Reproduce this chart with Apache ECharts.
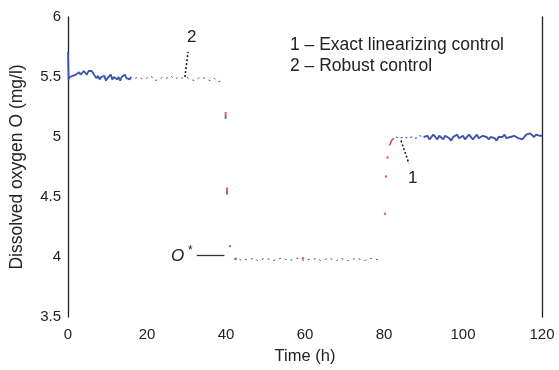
<!DOCTYPE html>
<html><head><meta charset="utf-8">
<script src="https://cdn.jsdelivr.net/npm/echarts@6/dist/echarts.min.js"></script>
<style>html,body{margin:0;padding:0;background:#fff}#c{width:559px;height:370px}</style>
</head><body><div id="c"></div>
<script>
// ---- data ----
const xTicks = [0, 20, 40, 60, 80, 100, 120];
const yTicks = [3.5, 4, 4.5, 5, 5.5, 6];
// robust control, solid part 0-16 h
const tA = [0,0.15,0.4,0.8,1.2,1.6,2,2.4,2.8,3.2,3.6,4,4.4,4.8,5.2,5.6,6,6.4,6.8,7.2,7.6,8,8.4,8.8,9.2,9.6,10,10.4,10.8,11.2,11.6,12,12.4,12.8,13.2,13.6,14,14.4,14.8,15.2,15.6,16];
const vA = [5.71,5.48,5.50,5.49,5.51,5.50,5.52,5.51,5.54,5.52,5.53,5.55,5.54,5.52,5.55,5.56,5.55,5.53,5.52,5.49,5.51,5.48,5.50,5.49,5.51,5.47,5.49,5.50,5.52,5.48,5.50,5.51,5.48,5.50,5.47,5.50,5.49,5.52,5.49,5.50,5.48,5.50];
// sparse part 17-39 h
const tB = [17,18,19,20,21,22,23,24,25,26,27,28,29,30,31,32,33,34,35,36,37,38,39];
const vB = [5.49,5.50,5.48,5.49,5.51,5.47,5.48,5.50,5.49,5.51,5.48,5.50,5.49,5.50,5.48,5.47,5.49,5.50,5.48,5.47,5.49,5.46,5.47];
// transition at 40 h
const tT1 = [39.9, 40.25];
const vT1 = [5.18, 4.55];
const tT1b = [41];
const vT1b = [4.09];
// sparse low part 42-79 h
const tC = [42,43,44,45,46,47,48,49,50,51,52,53,54,55,56,57,58,59,60,61,62,63,64,65,66,67,68,69,70,71,72,73,74,75,76,77,78,79];
const vC = [3.98,3.99,3.97,3.98,3.98,3.99,3.97,3.98,3.99,3.98,3.97,3.98,3.99,3.98,3.97,3.98,3.99,3.98,3.97,3.98,3.98,3.99,3.97,3.98,3.99,3.98,3.97,3.99,3.98,3.97,3.98,3.99,3.98,3.97,3.98,3.99,3.98,3.98];
// transition at 80 h (exact linearizing control visible)
const tT2 = [80.25, 80.5, 80.9];
const vT2 = [4.36, 4.67, 4.83];
const tT2s = [81.4, 81.9, 82.5];
const vT2s = [4.93, 4.97, 4.99];
// sparse part 83-90 h
const tD = [83,84,85,86,87,88,89,90];
const vD = [5.00,4.99,5.00,4.99,5.00,4.99,5.01,5.00];
// solid part 90-120 h
const tE = [90,90.5,91,91.5,92,92.5,93,93.5,94,94.5,95,95.5,96,96.5,97,97.5,98,98.5,99,99.5,
            100,100.5,101,101.5,102,102.5,103,103.5,104,104.5,105,105.5,106,106.5,107,107.5,108,108.5,109,109.5,
            110,110.5,111,111.5,112,112.5,113,113.5,114,114.5,115,115.5,116,116.5,117,117.5,118,118.5,119,119.5,120];
const vE = [5.00,4.99,5.01,4.98,4.99,5.02,5.00,4.98,5.01,5.00,
            4.98,5.01,5.02,4.99,4.97,5.00,5.01,5.02,4.99,5.00,
            5.01,4.98,4.99,5.02,5.01,4.98,5.00,5.02,4.99,4.98,
            5.01,5.02,5.00,4.98,5.00,5.01,4.99,4.97,5.00,5.01,
            5.00,5.02,4.99,4.98,5.00,4.99,5.01,5.02,4.99,5.00,
            4.98,5.00,5.02,5.01,5.03,5.02,5.00,5.02,5.03,5.01,5.01];
// red dots of curve 1 visible in flat parts
const tR = [42.5, 59.5];
const vR = [3.985, 3.99];
// annotations (data coordinates)
const lead2 = [[29.6, 5.50], [30.4, 5.71]];
const lead1 = [[84.3, 4.97], [86.3, 4.78]];
const oStarLine = [[32.6, 4.013], [39.6, 4.013]];
const legendLines = ['1 \u2013 Exact linearizing control', '2 \u2013 Robust control'];

const zip = (t, v) => t.map((x, i) => [x, v[i]]);
const BLUE = '#3a53ae';
const RED = '#e8343c';
const F = 'Liberation Sans, Arial, sans-serif';

const chart = echarts.init(document.getElementById('c'));
const rb = {type:'linear',x:0,y:0,x2:0,y2:1,colorStops:[{offset:0,color:RED},{offset:0.45,color:RED},{offset:0.45,color:BLUE},{offset:1,color:BLUE}]};

chart.setOption({
  animation: false,
  grid: {left: 68, right: 17, top: 17, bottom: 50},
  xAxis: {
    type: 'value', min: 0, max: 120, interval: 20,
    axisLine: {show: false}, axisTick: {show: false}, splitLine: {show: false},
    axisLabel: {color: '#222', fontFamily: F, fontSize: 15, margin: 10,
      formatter: v => xTicks.includes(v) ? String(v) : ''},
    name: 'Time (h)', nameLocation: 'middle', nameGap: 31,
    nameTextStyle: {color: '#222', fontFamily: F, fontSize: 16.5}
  },
  yAxis: [{
    type: 'value', min: 3.5, max: 6, interval: 0.5,
    axisLine: {show: true, onZero: false, lineStyle: {color: '#222', width: 1.3}},
    axisTick: {show: false}, splitLine: {show: false},
    axisLabel: {color: '#222', fontFamily: F, fontSize: 15, margin: 7,
      formatter: v => yTicks.includes(v) ? String(v) : ''},
    name: 'Dissolved oxygen O (mg/l)', nameLocation: 'middle', nameGap: 42, nameRotate: 90,
    nameTextStyle: {color: '#222', fontFamily: F, fontSize: 17.5}
  }, {
    type: 'value', min: 3.5, max: 6, interval: 0.5, position: 'right',
    axisLine: {show: true, onZero: false, lineStyle: {color: '#222', width: 1.3}},
    axisTick: {show: false}, axisLabel: {show: false}, splitLine: {show: false}
  }],
  series: [
    {type: 'line', data: zip(tA, vA), symbol: 'none', lineStyle: {color: BLUE, width: 1.8}},
    {type: 'line', data: zip(tB, vB), symbol: 'none', lineStyle: {color: BLUE, width: 1, type: [2, 4]}},
    {type: 'line', data: zip(tC, vC), symbol: 'none', lineStyle: {color: BLUE, width: 1, type: [2, 4]}},
    {type: 'line', data: zip(tD, vD), symbol: 'none', lineStyle: {color: BLUE, width: 1.1, type: [2, 3]}},
    {type: 'line', data: zip(tE, vE), symbol: 'none', lineStyle: {color: BLUE, width: 1.9}},
    {type: 'line', data: zip(tT2s, vT2s), symbol: 'none', lineStyle: {color: RED, width: 1.4}},
    {type: 'scatter', data: zip(tT1, vT1), symbol: 'rect', symbolSize: [2, 7], itemStyle: {color: rb}},
    {type: 'scatter', data: zip(tT1b, vT1b), symbol: 'rect', symbolSize: [2, 2], itemStyle: {color: BLUE}},
    {type: 'scatter', data: zip(tT2, vT2), symbol: 'circle', symbolSize: 2.5, itemStyle: {color: RED}},
    {type: 'scatter', data: zip(tR, vR), symbol: 'circle', symbolSize: 2.5, itemStyle: {color: RED}},
    {type: 'line', data: [], symbol: 'none', silent: true,
      markLine: {symbol: 'none', silent: true, label: {show: false},
        lineStyle: {color: '#111', width: 1.5, type: [2, 2]},
        data: [
          [{coord: lead2[0]}, {coord: lead2[1]}],
          [{coord: lead1[0]}, {coord: lead1[1]}]
        ]}},
    {type: 'line', data: [], symbol: 'none', silent: true,
      markLine: {symbol: 'none', silent: true, label: {show: false},
        lineStyle: {color: '#333', width: 1.3, type: 'solid'},
        data: [[{coord: oStarLine[0]}, {coord: oStarLine[1]}]]}}
  ],
  graphic: [
    {type: 'text', left: 187, top: 29, style: {text: '2', fontFamily: F, fontSize: 17, fill: '#222'}},
    {type: 'text', left: 408, top: 170, style: {text: '1', fontFamily: F, fontSize: 17, fill: '#222'}},
    {type: 'text', left: 171, top: 248, style: {text: 'O', fontFamily: F, fontSize: 17, fontStyle: 'italic', fill: '#222'}},
    {type: 'text', left: 188, top: 245, style: {text: '*', fontFamily: F, fontSize: 12, fill: '#222'}},
    {type: 'text', left: 290, top: 36, style: {text: legendLines[0], fontFamily: F, fontSize: 17.5, fill: '#222'}},
    {type: 'text', left: 290, top: 57, style: {text: legendLines[1], fontFamily: F, fontSize: 17.5, fill: '#222'}}
  ]
});
</script></body></html>
